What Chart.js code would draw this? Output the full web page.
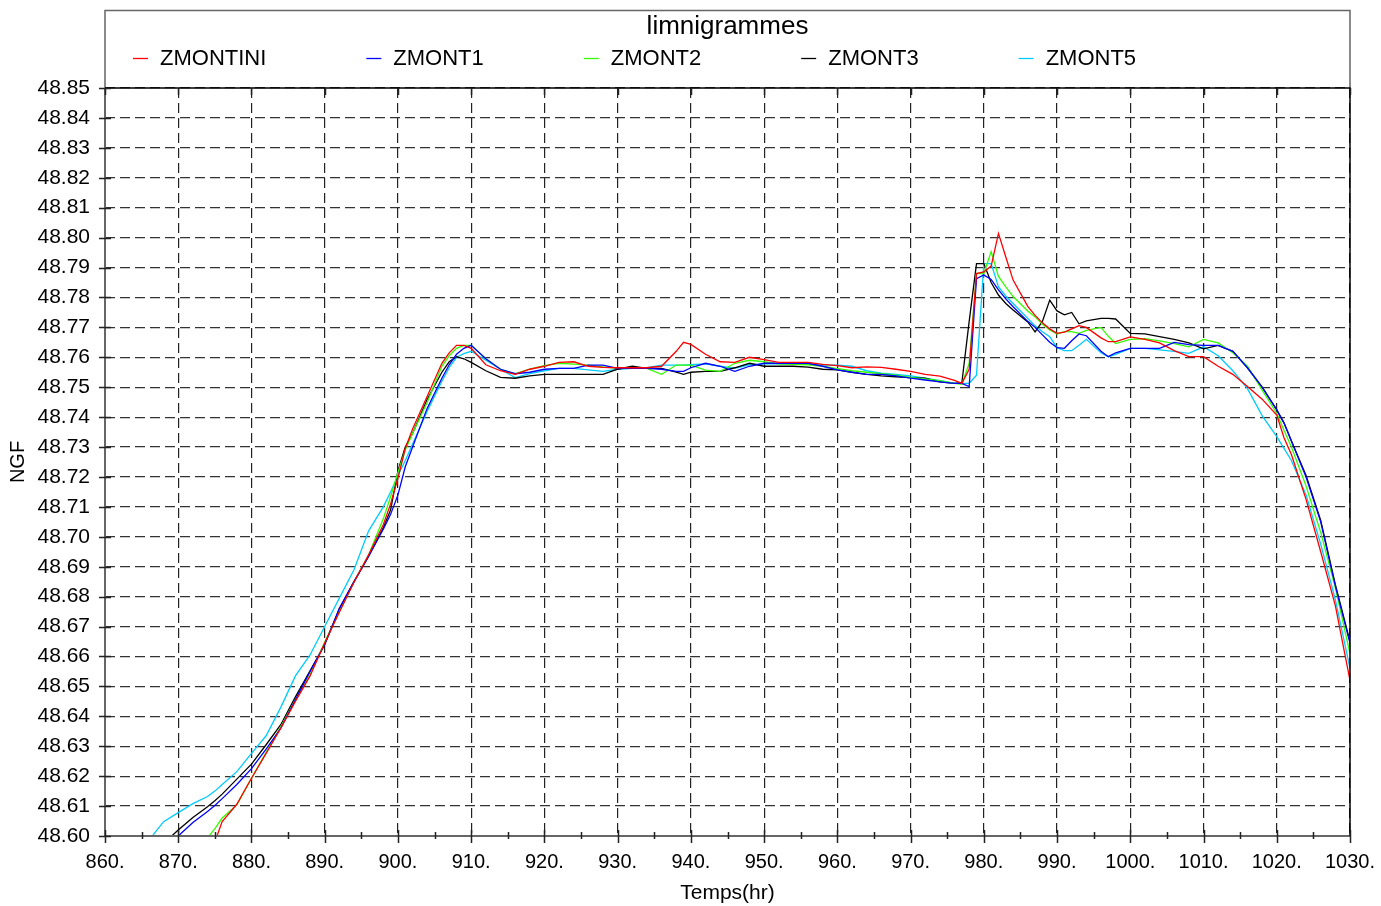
<!DOCTYPE html>
<html>
<head>
<meta charset="utf-8">
<title>limnigrammes</title>
<script src="https://cdn.jsdelivr.net/npm/chart.js@4.4.1/dist/chart.umd.min.js"></script>
<style>
  html, body { margin: 0; padding: 0; background: #fff; }
  #wrap { width: 1381px; height: 906px; position: relative; }
</style>
</head>
<body>
<div id="wrap"><canvas id="chart"></canvas></div>
<script>
// Time axis (hours) shared by all series
const hours = [
  866, 867, 868, 870, 872, 874, 875, 876, 878, 880,
  882, 884, 886, 888, 890, 892, 894, 896, 898, 899,
  900, 901, 902, 904, 906, 907, 908, 909, 910, 912,
  914, 916, 918, 920, 922, 924, 926, 928, 930, 932,
  934, 936, 938, 939, 940, 942, 944, 946, 948, 950,
  952, 954, 956, 958, 960, 962, 964, 966, 968, 970,
  972, 974, 976, 977, 978, 979, 980, 981, 982, 983,
  984, 986, 987, 988, 989, 990, 991, 992, 993, 994,
  996, 997, 998, 1000, 1002, 1004, 1006, 1008, 1010, 1012,
  1014, 1016, 1018, 1020, 1021, 1022, 1024, 1026, 1028, 1030
];

// Water levels (NGF) per gauge
const zmontini = [
  null, null, null, null, null, null, 48.5980, 48.6048, 48.6106, 48.6193,
  48.6276, 48.6360, 48.6450, 48.6535, 48.6645, 48.6748, 48.6848, 48.6940, 48.7040, 48.7110,
  48.7195, 48.7295, 48.7360, 48.7470, 48.7580, 48.7615, 48.7640, 48.7640, 48.7630, 48.7575,
  48.7555, 48.7543, 48.7560, 48.7570, 48.7583, 48.7585, 48.7570, 48.7566, 48.7565, 48.7565,
  48.7565, 48.7570, 48.7620, 48.7650, 48.7643, 48.7610, 48.7585, 48.7583, 48.7600, 48.7592,
  48.7583, 48.7583, 48.7583, 48.7576, 48.7572, 48.7565, 48.7568, 48.7566, 48.7560, 48.7553,
  48.7543, 48.7537, 48.7523, 48.7513, 48.7560, 48.7880, 48.7885, 48.7905, 48.8014, 48.7935,
  48.7858, 48.7770, 48.7740, 48.7715, 48.7695, 48.7680, 48.7684, 48.7695, 48.7706, 48.7700,
  48.7665, 48.7652, 48.7652, 48.7668, 48.7660, 48.7648, 48.7622, 48.7602, 48.7602, 48.7570,
  48.7543, 48.7502, 48.7460, 48.7407, 48.7330, 48.7275, 48.7125, 48.6950, 48.6770, 48.6520
];
const zmont1 = [
  null, null, null, 48.6000, 48.6045, 48.6082, 48.6102, 48.6125, 48.6172, 48.6225,
  48.6290, 48.6360, 48.6455, 48.6550, 48.6640, 48.6760, 48.6850, 48.6935, 48.7025, 48.7075,
  48.7140, 48.7234, 48.7300, 48.7430, 48.7530, 48.7575, 48.7610, 48.7630, 48.7640, 48.7595,
  48.7560, 48.7545, 48.7550, 48.7560, 48.7563, 48.7563, 48.7574, 48.7574, 48.7563, 48.7563,
  48.7563, 48.7560, 48.7553, 48.7553, 48.7565, 48.7580, 48.7570, 48.7553, 48.7570, 48.7580,
  48.7580, 48.7580, 48.7580, 48.7570, 48.7558, 48.7550, 48.7543, 48.7543, 48.7538, 48.7530,
  48.7524, 48.7518, 48.7513, 48.7513, 48.7502, 48.7863, 48.7875, 48.7860, 48.7825, 48.7795,
  48.7769, 48.7720, 48.7700, 48.7675, 48.7650, 48.7632, 48.7630, 48.7655, 48.7678, 48.7672,
  48.7620, 48.7602, 48.7615, 48.7630, 48.7630, 48.7630, 48.7650, 48.7642, 48.7640, 48.7640,
  48.7620, 48.7565, 48.7500, 48.7424, 48.7380, 48.7320, 48.7200, 48.7050, 48.6835, 48.6645
];
const zmont2 = [
  null, null, null, null, null, 48.5993, 48.6025, 48.6060, 48.6104, 48.6193,
  48.6280, 48.6365, 48.6455, 48.6538, 48.6648, 48.6750, 48.6850, 48.6940, 48.7060, 48.7134,
  48.7215, 48.7290, 48.7345, 48.7450, 48.7570, 48.7605, 48.7630, 48.7640, 48.7640, 48.7595,
  48.7560, 48.7545, 48.7560, 48.7572, 48.7580, 48.7577, 48.7574, 48.7568, 48.7563, 48.7563,
  48.7563, 48.7543, 48.7574, 48.7574, 48.7574, 48.7557, 48.7553, 48.7580, 48.7590, 48.7585,
  48.7578, 48.7576, 48.7575, 48.7570, 48.7562, 48.7555, 48.7550, 48.7545, 48.7540, 48.7533,
  48.7528, 48.7522, 48.7513, 48.7510, 48.7580, 48.7880, 48.7880, 48.7953, 48.7870, 48.7835,
  48.7803, 48.7755, 48.7735, 48.7710, 48.7691, 48.7678, 48.7686, 48.7686, 48.7680, 48.7690,
  48.7700, 48.7670, 48.7646, 48.7660, 48.7662, 48.7655, 48.7646, 48.7635, 48.7660, 48.7648,
  48.7615, 48.7570, 48.7490, 48.7413, 48.7355, 48.7300, 48.7170, 48.7015, 48.6830, 48.6610
];
const zmont3 = [
  null, null, 48.5975, 48.6020, 48.6062, 48.6098, 48.6118, 48.6140, 48.6190, 48.6240,
  48.6305, 48.6372, 48.6465, 48.6552, 48.6640, 48.6760, 48.6850, 48.6935, 48.7030, 48.7090,
  48.7220, 48.7300, 48.7345, 48.7460, 48.7550, 48.7585, 48.7602, 48.7595, 48.7583, 48.7555,
  48.7533, 48.7530, 48.7538, 48.7543, 48.7543, 48.7543, 48.7543, 48.7543, 48.7560, 48.7570,
  48.7563, 48.7563, 48.7550, 48.7543, 48.7550, 48.7553, 48.7553, 48.7565, 48.7580, 48.7570,
  48.7570, 48.7570, 48.7567, 48.7560, 48.7558, 48.7550, 48.7543, 48.7538, 48.7535, 48.7532,
  48.7530, 48.7518, 48.7513, 48.7515, 48.7720, 48.7913, 48.7913, 48.7850, 48.7808, 48.7780,
  48.7758, 48.7718, 48.7685, 48.7720, 48.7791, 48.7755, 48.7742, 48.7750, 48.7712, 48.7722,
  48.7730, 48.7730, 48.7728, 48.7680, 48.7678, 48.7669, 48.7660, 48.7648, 48.7628, 48.7640,
  48.7620, 48.7565, 48.7500, 48.7424, 48.7380, 48.7320, 48.7205, 48.7055, 48.6840, 48.6650
];
const zmont5 = [
  48.5985, 48.6017, 48.6048, 48.6078, 48.6108, 48.6132, 48.6150, 48.6172, 48.6215, 48.6276,
  48.6335, 48.6430, 48.6535, 48.6605, 48.6700, 48.6795, 48.6890, 48.7020, 48.7100, 48.7150,
  48.7205, 48.7255, 48.7310, 48.7420, 48.7520, 48.7565, 48.7600, 48.7612, 48.7620, 48.7590,
  48.7560, 48.7532, 48.7545, 48.7555, 48.7563, 48.7563, 48.7558, 48.7553, 48.7560, 48.7563,
  48.7565, 48.7574, 48.7574, 48.7574, 48.7575, 48.7578, 48.7570, 48.7563, 48.7575, 48.7578,
  48.7578, 48.7578, 48.7578, 48.7574, 48.7574, 48.7570, 48.7555, 48.7547, 48.7543, 48.7538,
  48.7530, 48.7522, 48.7513, 48.7513, 48.7513, 48.7540, 48.7913, 48.7913, 48.7835, 48.7805,
  48.7780, 48.7730, 48.7705, 48.7685, 48.7669, 48.7632, 48.7622, 48.7622, 48.7640, 48.7660,
  48.7615, 48.7602, 48.7610, 48.7630, 48.7630, 48.7625, 48.7620, 48.7613, 48.7635, 48.7605,
  48.7555, 48.7495, 48.7405, 48.7335, 48.7295, 48.7255, 48.7140, 48.6975, 48.6790, 48.6560
];

const seriesNames = ['ZMONTINI', 'ZMONT1', 'ZMONT2', 'ZMONT3', 'ZMONT5'];
const seriesColors = ['#ff0000', '#0000ff', '#33ff00', '#000000', '#00ccff'];
const seriesValues = [zmontini, zmont1, zmont2, zmont3, zmont5];

// Axis ranges
const xMin = 860, xMax = 1030, xStep = 10;
const yMin = 48.60, yMax = 48.85, yStep = 0.01;

const FONT = "'Liberation Sans', Arial, Helvetica, sans-serif";

function toPoints(values) {
    return hours.map((h, i) => ({ x: h, y: values[i] }));
}

// Draws the title box, the legend, the plot frame and the tick marks
const framePlugin = {
    id: 'framePlugin',
    afterDraw(chart) {
        const { ctx, chartArea: a, scales: { x, y } } = chart;
        ctx.save();

        // title box
        ctx.strokeStyle = '#666';
        ctx.lineWidth = 1.5;
        ctx.beginPath();
        ctx.moveTo(a.left, a.top);
        ctx.lineTo(a.left, 10.5);
        ctx.lineTo(a.right, 10.5);
        ctx.lineTo(a.right, a.top);
        ctx.stroke();

        ctx.fillStyle = '#000';
        ctx.font = '26px ' + FONT;
        ctx.textAlign = 'center';
        ctx.textBaseline = 'alphabetic';
        ctx.fillText('limnigrammes', (a.left + a.right) / 2, 34);

        // legend
        ctx.font = '22px ' + FONT;
        ctx.textAlign = 'left';
        ctx.textBaseline = 'middle';
        let lx = 133;
        chart.data.datasets.forEach(ds => {
            ctx.strokeStyle = ds.borderColor;
            ctx.lineWidth = 1.3;
            ctx.beginPath();
            ctx.moveTo(lx, 58.5);
            ctx.lineTo(lx + 15, 58.5);
            ctx.stroke();
            ctx.fillStyle = '#000';
            ctx.fillText(ds.label, lx + 27, 59);
            lx += 27 + ctx.measureText(ds.label).width + 100;
        });

        // frame
        ctx.lineWidth = 2;
        ctx.strokeStyle = '#666';
        ctx.beginPath();
        ctx.moveTo(a.left, a.top);
        ctx.lineTo(a.left, a.bottom);
        ctx.lineTo(a.right, a.bottom);
        ctx.stroke();
        ctx.strokeStyle = '#000';
        ctx.lineWidth = 1.5;
        ctx.beginPath();
        ctx.moveTo(a.left, a.top);
        ctx.lineTo(a.right, a.top);
        ctx.lineTo(a.right, a.bottom);
        ctx.stroke();

        // tick marks
        ctx.strokeStyle = '#222';
        ctx.lineWidth = 1.5;
        ctx.beginPath();
        for (let v = xMin; v <= xMax; v += xStep / 2) {
            const px = Math.round(x.getPixelForValue(v)) + 0.5;
            const major = (v - xMin) % xStep === 0;
            ctx.moveTo(px, a.bottom + (major ? 7 : 3));
            ctx.lineTo(px, a.bottom - (major ? 6 : 4));
            if (major) {
                ctx.moveTo(px, a.top);
                ctx.lineTo(px, a.top + 7);
            }
        }
        const nY = Math.round((yMax - yMin) / yStep);
        for (let i = 0; i <= nY; i++) {
            const py = Math.round(y.getPixelForValue(yMin + i * yStep)) + 0.5;
            ctx.moveTo(a.left - 6, py);
            ctx.lineTo(a.left + 6, py);
        }
        ctx.stroke();
        ctx.restore();
    }
};

try {
    const canvas = document.getElementById('chart');
    new Chart(canvas, {
        type: 'line',
        data: {
            datasets: seriesNames.map((name, i) => ({
                label: name,
                data: toPoints(seriesValues[i]),
                borderColor: seriesColors[i],
                backgroundColor: seriesColors[i],
                borderWidth: 1.3,
                pointRadius: 0,
                tension: 0,
                fill: false,
                spanGaps: false
            }))
        },
        options: {
            responsive: true,
            maintainAspectRatio: false,
            animation: false,
            layout: { padding: { top: 88, right: 31, left: 0, bottom: 0 } },
            plugins: {
                legend: { display: false },
                title: { display: false },
                tooltip: { enabled: false }
            },
            scales: {
                x: {
                    type: 'linear',
                    min: xMin,
                    max: xMax,
                    afterFit: s => {
                        s.height = 70;
                        s.paddingLeft = 0;
                        s.paddingRight = 0;
                    },
                    ticks: {
                        stepSize: xStep,
                        autoSkip: false,
                        maxRotation: 0,
                        padding: 14,
                        color: '#000',
                        font: { family: FONT, size: 20 },
                        callback: v => v + '.'
                    },
                    grid: { color: '#222', lineWidth: 1.2, drawTicks: false },
                    border: { display: false, dash: [10, 5] },
                    title: {
                        display: true,
                        text: 'Temps(hr)',
                        color: '#000',
                        font: { family: FONT, size: 21 },
                        padding: 0
                    }
                },
                y: {
                    type: 'linear',
                    min: yMin,
                    max: yMax,
                    afterFit: s => {
                        s.width = 105;
                        s.paddingTop = 0;
                        s.paddingBottom = 0;
                    },
                    ticks: {
                        stepSize: yStep,
                        autoSkip: false,
                        padding: 15,
                        color: '#000',
                        font: { family: FONT, size: 21 },
                        callback: v => v.toFixed(2)
                    },
                    grid: { color: '#333', lineWidth: 1.2, drawTicks: false },
                    border: { display: false, dash: [10, 5] },
                    title: {
                        display: true,
                        text: 'NGF',
                        color: '#000',
                        font: { family: FONT, size: 20 },
                        padding: 6
                    }
                }
            }
        },
        plugins: [framePlugin]
    });
} catch (error) {
    console.error('Error initializing limnigram chart:', error);
}
</script>
</body>
</html>
